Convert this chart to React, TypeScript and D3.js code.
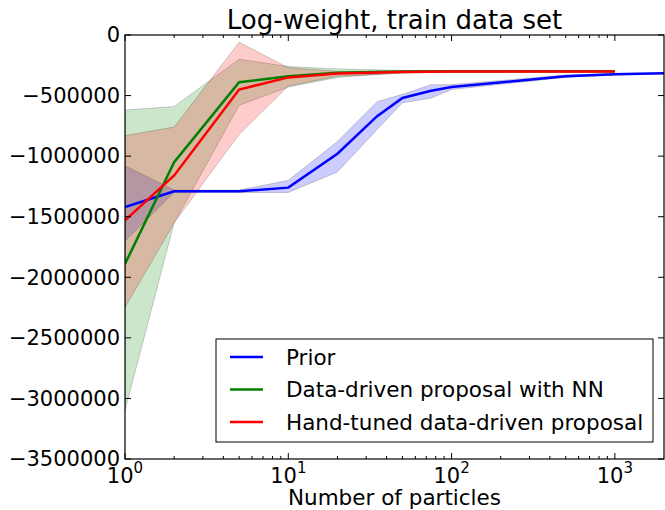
import React from "react";
import * as d3 from "d3";

const priorX = [1, 2, 5, 10, 20, 35, 50, 75, 100, 500, 1000, 2000];
const priorY = [-1420000, -1290000, -1290000, -1260000, -980000, -670000, -520000, -460000, -430000, -340000, -325000, -316000];
const priorLo = [-1700000, -1300000, -1300000, -1300000, -1130000, -780000, -560000, -520000, -450000, -350000, -330000, -320000];
const priorHi = [-1080000, -1280000, -1280000, -1200000, -880000, -550000, -490000, -410000, -410000, -330000, -318000, -312000];

const propX = [1, 2, 5, 10, 20, 50, 100, 1000];
const nnY = [-1890000, -1050000, -390000, -340000, -312000, -302000, -300000, -300000];
const nnLo = [-3100000, -1550000, -580000, -430000, -350000, -312000, -305000, -303000];
const nnHi = [-620000, -590000, -200000, -260000, -280000, -292000, -296000, -297000];

const handY = [-1530000, -1160000, -450000, -350000, -318000, -305000, -302000, -302000];
const handLo = [-2250000, -1550000, -820000, -420000, -340000, -315000, -308000, -306000];
const handHi = [-830000, -760000, -60000, -270000, -300000, -297000, -297000, -298000];

const yTicks = [0, -500000, -1000000, -1500000, -2000000, -2500000, -3000000, -3500000];
const xMajor = [1, 10, 100, 1000];
const xMajorExp = ["0", "1", "2", "3"];

const seriesNames = ["Prior", "Data-driven proposal with NN", "Hand-tuned data-driven proposal"];
const seriesColors = ["#0000ff", "#008000", "#ff0000"];

const W = 665, H = 510;
const L = 125, R = 664, T = 35, B = 459;
const FONT = "DejaVu Sans, sans-serif";

export default function App() {
  const x = d3.scaleLog().domain([1, 2000]).range([L, R]);
  const y = d3.scaleLinear().domain([-3500000, 0]).range([B, T]);

  const series = [
    { xs: priorX, ys: priorY, lo: priorLo, hi: priorHi },
    { xs: propX, ys: nnY, lo: nnLo, hi: nnHi },
    { xs: propX, ys: handY, lo: handLo, hi: handHi },
  ];

  const line = d3.line<[number, number]>().x((d) => x(d[0])).y((d) => y(d[1]));
  const area = d3
    .area<[number, number, number]>()
    .x((d) => x(d[0]))
    .y0((d) => y(d[1]))
    .y1((d) => y(d[2]));

  const minor: number[] = [];
  for (const dec of [1, 10, 100, 1000]) {
    for (let k = 2; k <= 9; k++) {
      const v = dec * k;
      if (v < 2000) minor.push(v);
    }
  }

  const fmt = (v: number) => (v < 0 ? "\u2212" + String(-v) : String(v));

  return (
    <svg width={W} height={H} style={{ position: "absolute", left: 0, top: 0, background: "#fff" }} fontFamily={FONT}>
      <rect x={0} y={0} width={W} height={H} fill="#fff" />
      <defs>
        <clipPath id="plotclip">
          <rect x={L} y={T} width={R - L} height={B - T} />
        </clipPath>
      </defs>
      <g clipPath="url(#plotclip)">
        {series.map((s, i) => (
          <path
            key={"a" + i}
            d={area(s.xs.map((v, j) => [v, s.lo[j], s.hi[j]] as [number, number, number])) || ""}
            fill={seriesColors[i]}
            fillOpacity={0.2}
            stroke="#000"
            strokeOpacity={0.18}
            strokeWidth={1}
          />
        ))}
        {series.map((s, i) => (
          <path
            key={"l" + i}
            d={line(s.xs.map((v, j) => [v, s.ys[j]] as [number, number])) || ""}
            fill="none"
            stroke={seriesColors[i]}
            strokeWidth={2.5}
          />
        ))}
      </g>
      <rect x={L} y={T} width={R - L} height={B - T} fill="none" stroke="#000" strokeWidth={1.2} />
      {yTicks.map((t) => (
        <g key={"y" + t}>
          <line x1={L} x2={L + 6} y1={y(t)} y2={y(t)} stroke="#000" />
          <line x1={R} x2={R - 6} y1={y(t)} y2={y(t)} stroke="#000" />
          <text x={L - 5} y={y(t)} dy="0.35em" textAnchor="end" fontSize={21}>
            {fmt(t)}
          </text>
        </g>
      ))}
      {xMajor.map((t, i) => (
        <g key={"x" + t}>
          <line x1={x(t)} x2={x(t)} y1={B} y2={B - 6} stroke="#000" />
          <line x1={x(t)} x2={x(t)} y1={T} y2={T + 6} stroke="#000" />
          <text x={x(t)} y={483} textAnchor="middle" fontSize={21}>
            10
            <tspan dy={-10} fontSize={15}>
              {xMajorExp[i]}
            </tspan>
          </text>
        </g>
      ))}
      {minor.map((t) => (
        <g key={"m" + t}>
          <line x1={x(t)} x2={x(t)} y1={B} y2={B - 3} stroke="#000" />
          <line x1={x(t)} x2={x(t)} y1={T} y2={T + 3} stroke="#000" />
        </g>
      ))}
      <text x={(L + R) / 2} y={505} textAnchor="middle" fontSize={21.5}>
        Number of particles
      </text>
      <text x={(L + R) / 2} y={29} textAnchor="middle" fontSize={26}>
        Log-weight, train data set
      </text>
      <rect x={216} y={339} width={437} height={103} fill="#fff" stroke="#000" strokeWidth={1} />
      {seriesNames.map((n, i) => (
        <g key={"lg" + i}>
          <line x1={230} x2={263} y1={357 + i * 32.5} y2={357 + i * 32.5} stroke={seriesColors[i]} strokeWidth={2.5} />
          <text x={286} y={357 + i * 32.5} dy="0.35em" fontSize={21.5}>
            {n}
          </text>
        </g>
      ))}
    </svg>
  );
}
